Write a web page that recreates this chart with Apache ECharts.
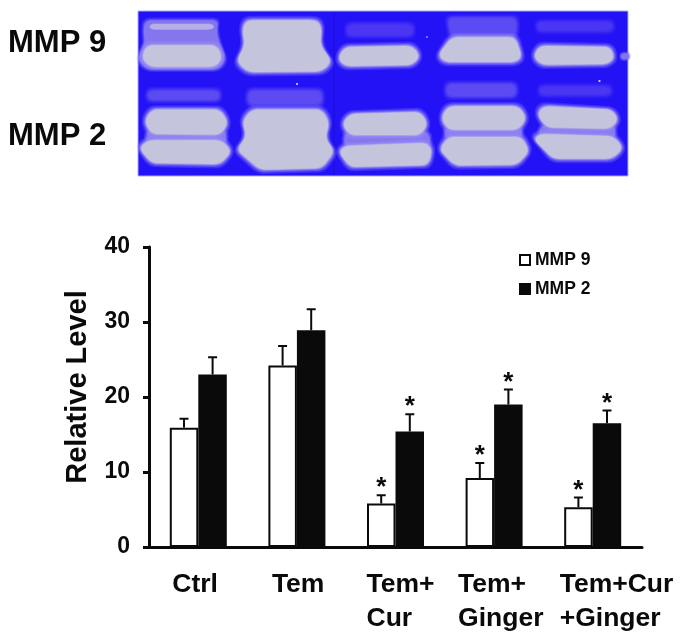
<!DOCTYPE html>
<html><head><meta charset="utf-8">
<style>html,body{margin:0;padding:0;background:#fff}#c{width:686px;height:644px}</style>
<script src="https://cdn.jsdelivr.net/npm/echarts@6/dist/echarts.min.js"></script></head>
<body><div id="c"></div>
<script>
const categories = ['Ctrl', 'Tem', 'Tem+Cur', 'Tem+Ginger', 'Tem+Cur+Ginger'];
const yTicks = [0, 10, 20, 30, 40];
const mmp9 = [15.9, 24.2, 5.8, 9.2, 5.3];
const mmp2 = [23.0, 28.9, 15.4, 19.0, 16.5];
const mmp9Upper = [17.1, 26.8, 6.9, 11.2, 6.6];
const mmp2Upper = [25.3, 31.7, 17.7, 21.0, 18.2];
const mmp9Star = [0, 0, 1, 1, 1];
const mmp2Star = [0, 0, 1, 1, 1];

const F = '"Liberation Sans", Arial, sans-serif';
const INK = '#0a0a0a';
const chart = echarts.init(document.getElementById('c'), null, {renderer: 'canvas'});

// illustrative gel photograph: rounded outlines with layered soft edges
const BAND = '#c4c4dc', HALO = '#9c90f5', MID = '#8676ee', LIGHT = '#b5afe6', FAINT = '#4a36f3', FAINT2 = '#5c4af2';
function rounded(pts, r) {
  const out = [], n = pts.length;
  for (let i = 0; i < n; i++) {
    const a = pts[(i + n - 1) % n], b = pts[i], c = pts[(i + 1) % n];
    const la = Math.hypot(a[0] - b[0], a[1] - b[1]), lc = Math.hypot(c[0] - b[0], c[1] - b[1]);
    const ra = Math.min(r, la / 2) / la, rc = Math.min(r, lc / 2) / lc;
    const s = [b[0] + (a[0] - b[0]) * ra, b[1] + (a[1] - b[1]) * ra];
    const e = [b[0] + (c[0] - b[0]) * rc, b[1] + (c[1] - b[1]) * rc];
    for (let k = 0; k <= 6; k++) {
      const t = k / 6, u = 1 - t;
      out.push([u * u * s[0] + 2 * u * t * b[0] + t * t * e[0], u * u * s[1] + 2 * u * t * b[1] + t * t * e[1]]);
    }
  }
  return out;
}
function grow(pts, d) {
  const xs = pts.map(p => p[0]), ys = pts.map(p => p[1]);
  const x0 = Math.min(...xs), x1 = Math.max(...xs), y0 = Math.min(...ys), y1 = Math.max(...ys);
  const cx = (x0 + x1) / 2, cy = (y0 + y1) / 2, sx = 1 + 2 * d / (x1 - x0), sy = 1 + 2 * d / (y1 - y0);
  return pts.map(p => [cx + (p[0] - cx) * sx, cy + (p[1] - cy) * sy]);
}
const layer = (pts, fill, op) => ({type: 'polygon', silent: true, z: 1, shape: {points: pts}, style: {fill: fill, opacity: op}});
function soft(ox, oy, raw, fill, halo, spread) {
  const pts = rounded(raw.map(p => [ox + p[0] / 3, oy + p[1] / 3]), 7);
  const s = spread === undefined ? 1 : spread;
  return [
    layer(grow(pts, 4.5 * s), halo, 0.22),
    layer(grow(pts, 3 * s), halo, 0.35),
    layer(grow(pts, 1.8 * s), halo, 0.6),
    layer(grow(pts, 0.8 * s), fill, 0.6),
    layer(pts, fill, 1)
  ];
}
const A = (raw, f, h, s) => soft(135, 8, raw, f || BAND, h || HALO, s);
const B = (raw, f, h, s) => soft(380, 8, raw, f || BAND, h || HALO, s);
const P = (raw, f, h, s) => soft(0, 0, raw.map(p => [p[0] * 3, p[1] * 3]), f || BAND, h || HALO, s);
const dot = (x, y, r) => ({type: 'circle', silent: true, z: 1, shape: {cx: x, cy: y, r: r}, style: {fill: '#e8e8ff'}});
const gel = [
  {type: 'rect', silent: true, z: 1, shape: {x: 138, y: 11, width: 490, height: 165}, style: {fill: '#2312f6', stroke: '#a9a9ff', lineWidth: 1}},
  {type: 'line', silent: true, z: 1, shape: {x1: 334, y1: 12, x2: 334, y2: 175}, style: {stroke: '#1c0fd8', lineWidth: 1}},
  // MMP 9, lane 1
  ...A([[35,42],[245,42],[240,75],[250,110],[268,150],[245,178],[40,178],[12,150],[35,105],[30,75]], MID),
  ...A([[45,48],[235,48],[235,64],[45,64]], LIGHT, MID, 0.7),
  ...A([[35,112],[245,112],[262,150],[240,176],[45,176],[20,150]]),
  // MMP 9, lane 2
  ...A([[335,37],[545,37],[560,60],[555,110],[590,160],[560,190],[340,192],[305,160],[330,110],[322,65]]),
  // MMP 9, lane 3
  ...P([[348,25],[412,25],[412,35],[348,35]], FAINT, FAINT, 1),
  ...P([[345,47],[412,46],[420,56],[412,65],[345,66],[338,58]]),
  // MMP 9, lane 4
  ...B([[205,32],[408,32],[405,85],[215,85]], FAINT2, FAINT2, 1),
  ...B([[215,88],[405,88],[425,145],[405,162],[195,162],[175,140]]),
  // MMP 9, lane 5
  ...B([[475,44],[695,44],[695,66],[475,66]], FAINT, FAINT, 1),
  ...B([[480,114],[690,117],[703,150],[680,168],[485,170],[460,145]]),
  ...B([[725,138],[745,138],[745,152],[725,152]], MID, MID, 0.6),
  // MMP 2, lane 1
  ...A([[42,250],[250,250],[250,274],[42,274]], FAINT2, FAINT2, 1),
  ...A([[40,374],[268,374],[268,400],[40,400]], MID),
  ...A([[50,305],[255,305],[280,345],[255,380],[50,378],[28,340]]),
  ...A([[40,397],[260,397],[290,430],[255,468],[50,465],[12,420]]),
  // MMP 2, lane 2
  ...A([[342,250],[558,250],[558,288],[342,288]], FAINT2, FAINT2, 1),
  ...A([[350,305],[560,305],[583,345],[570,390],[598,430],[560,480],[375,485],[305,425],[335,385],[322,340]]),
  // MMP 2, lane 3
  ...P([[346,134],[428,134],[428,146],[346,146]], MID),
  ...P([[350,114],[420,112],[428,124],[420,135],[350,135],[342,124]]),
  ...P([[345,146],[426,143],[432,150],[428,165],[350,167],[339,152]]),
  // MMP 2, lane 4
  ...B([[202,230],[405,230],[405,263],[202,263]], FAINT2, FAINT2, 1),
  ...B([[200,364],[420,364],[420,386],[200,386]], MID),
  ...B([[205,295],[415,295],[440,330],[415,365],[205,365],[183,330]]),
  ...B([[205,387],[425,387],[448,430],[410,470],[225,472],[178,425]]),
  // MMP 2, lane 5
  ...B([[482,238],[688,238],[688,258],[482,258]], FAINT, FAINT, 1),
  ...B([[490,358],[700,358],[700,388],[480,378]], MID),
  ...B([[490,295],[695,305],[715,335],[690,362],[500,358],[472,320]]),
  ...B([[480,378],[700,385],[730,420],[695,452],[520,452],[462,395]]),
  dot(297, 84, 1), dot(427, 37, 0.8), dot(599.5, 81, 1.1)
];

const labelText = (t, x, y) => ({
  type: 'text', silent: true, z: 2, x: x, y: y,
  style: {text: t, font: 'bold 31px ' + F, fill: INK, textVerticalAlign: 'middle'}
});

const errSeries = (name, upper, stars, side) => ({
  type: 'custom', name: name + ' error', z: 5, silent: true,
  data: categories.map((c, i) => [i, side === -1 ? mmp9[i] : mmp2[i], upper[i], stars[i]]),
  encode: {x: 0, y: 2},
  renderItem: (params, api) => {
    const i = api.value(0);
    const cx = api.coord([i, 0])[0] + side * 14.3;
    const y0 = api.coord([i, api.value(1)])[1];
    const y1 = api.coord([i, api.value(2)])[1];
    const st = {stroke: INK, lineWidth: 2};
    const kids = [
      {type: 'line', shape: {x1: cx, y1: y0, x2: cx, y2: y1}, style: st},
      {type: 'line', shape: {x1: cx - 4.5, y1: y1, x2: cx + 4.5, y2: y1}, style: st}
    ];
    if (api.value(3)) kids.push({type: 'text', x: cx, y: y1 - 7,
      style: {text: '*', font: 'bold 26px ' + F, fill: INK, textAlign: 'center', textVerticalAlign: 'middle'}});
    return {type: 'group', children: kids};
  }
});

const labelBase = {fontFamily: F, fontWeight: 'bold', fontSize: 26.5, color: INK, lineHeight: 34};
const barCommon = {type: 'bar', barWidth: 28.5, barGap: 0, z: 3};
chart.setOption({
  animation: false,
  backgroundColor: '#fff',
  textStyle: {fontFamily: F},
  graphic: {elements: gel.concat([labelText('MMP 9', 8, 43), labelText('MMP 2', 8, 136)])},
  grid: {left: 149, top: 247, width: 493, height: 300, containLabel: false},
  legend: {
    orient: 'vertical', left: 514, top: 246, itemWidth: 10, itemHeight: 10, itemGap: 11,
    icon: 'rect', data: ['MMP 9', 'MMP 2'],
    textStyle: {fontFamily: F, fontWeight: 'bold', fontSize: 17.5, color: INK}
  },
  xAxis: {
    type: 'category', data: categories,
    axisLine: {show: true, onZero: false, lineStyle: {color: INK, width: 3}},
    axisTick: {show: false},
    axisLabel: {
      interval: 0, margin: 21, hideOverlap: false,
      formatter: v => ({
        'Ctrl': '{a|Ctrl}',
        'Tem': '{e|Tem}',
        'Tem+Cur': '{b|Tem+}\n{b|Cur}',
        'Tem+Ginger': '{c|Tem+}\n{c|Ginger}',
        'Tem+Cur+Ginger': '{d|Tem+Cur}\n{d|+Ginger}'
      })[v],
      rich: {
        a: Object.assign({}, labelBase, {width: 52, align: 'left'}),
        e: Object.assign({}, labelBase, {width: 50, align: 'left'}),
        b: Object.assign({}, labelBase, {width: 58, align: 'left'}),
        c: Object.assign({}, labelBase, {width: 72, align: 'left'}),
        d: Object.assign({}, labelBase, {width: 66, align: 'left'})
      }
    }
  },
  yAxis: {
    type: 'value', min: yTicks[0], max: yTicks[yTicks.length - 1], interval: 10,
    name: 'Relative Level', nameLocation: 'middle', nameGap: 57,
    nameTextStyle: {fontFamily: F, fontWeight: 'bold', fontSize: 29, color: INK, padding: [0, 0, 0, 20]},
    axisLine: {show: true, lineStyle: {color: INK, width: 3}},
    axisTick: {show: true, length: 6, lineStyle: {color: INK, width: 3}},
    axisLabel: {fontFamily: F, fontWeight: 'bold', fontSize: 23, color: INK, margin: 19, padding: [4, 0, 0, 0]},
    splitLine: {show: false}
  },
  series: [
    Object.assign({}, barCommon, {name: 'MMP 9', data: mmp9, itemStyle: {color: '#fff', borderColor: INK, borderWidth: 2}}),
    Object.assign({}, barCommon, {name: 'MMP 2', data: mmp2, itemStyle: {color: INK, borderColor: INK, borderWidth: 2}}),
    errSeries('MMP 9', mmp9Upper, mmp9Star, -1),
    errSeries('MMP 2', mmp2Upper, mmp2Star, 1)
  ]
});
</script></body></html>
